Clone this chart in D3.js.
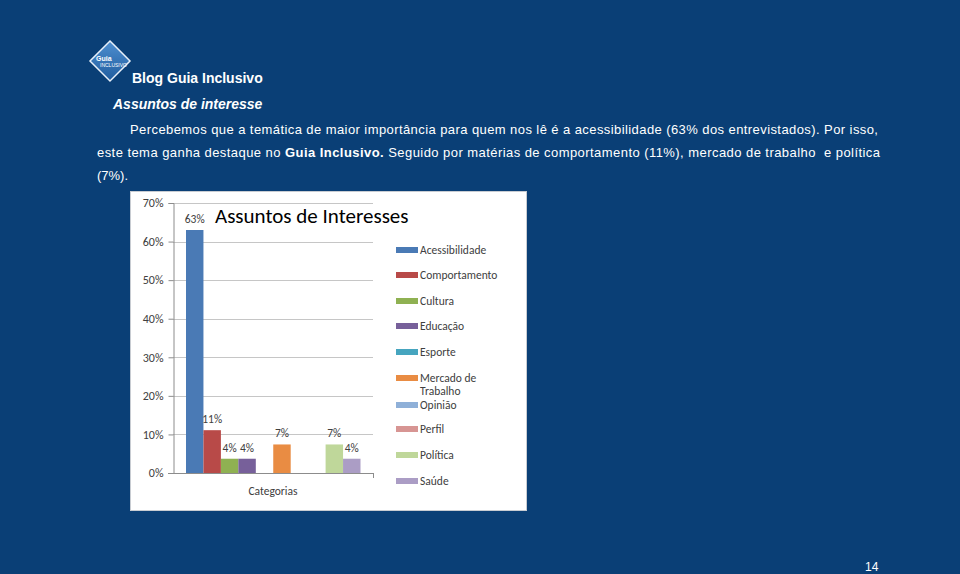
<!DOCTYPE html>
<html><head><meta charset="utf-8">
<script src="https://cdn.jsdelivr.net/npm/d3@7"></script>
<style>html,body{margin:0;padding:0;background:#0a3f76;}svg{display:block;}</style>
</head><body>
<script>
const categories = ["Acessibilidade","Comportamento","Cultura","Educação","Esporte","Mercado de Trabalho","Opinião","Perfil","Política","Saúde"];
const values = [0.63, 0.111, 0.037, 0.037, 0, 0.074, 0, 0, 0.074, 0.037];
const colors = ["#4a7ab5","#b84a48","#8fb152","#77609a","#46a5bf","#e98c43","#8fb0d8","#d79593","#bfd79a","#ab9dc5"];
const yTicks = [0,0.1,0.2,0.3,0.4,0.5,0.6,0.7];
const legendLines = [["Acessibilidade"],["Comportamento"],["Cultura"],["Educação"],["Esporte"],["Mercado de","Trabalho"],["Opinião"],["Perfil"],["Política"],["Saúde"]];

const W=960,H=574;
const svg=d3.select("body").append("svg").attr("width",W).attr("height",H);
svg.append("rect").attr("width",W).attr("height",H).attr("fill","#0a3f76");

// logo
const defs=svg.append("defs");
const lg=defs.append("linearGradient").attr("id","lg").attr("x1",0).attr("y1",0).attr("x2",0).attr("y2",1);
lg.append("stop").attr("offset","0%").attr("stop-color","#4f8fd0");
lg.append("stop").attr("offset","100%").attr("stop-color","#1f5c9e");
const logo=svg.append("g").attr("transform","translate(110,61)");
logo.append("path").attr("d","M0,-20 L20,0 L0,20 L-20,0 Z").attr("fill","url(#lg)").attr("stroke","#e8f0fa").attr("stroke-width",1.5);
logo.append("text").attr("x",-14).attr("y",0).attr("font-family","Liberation Sans, Arial").attr("font-size",7).attr("font-weight","bold").attr("fill","#fff").text("Guia");
logo.append("text").attr("x",-10).attr("y",6).attr("font-family","Liberation Sans, Arial").attr("font-size",5).attr("fill","#fff").text("INCLUSIVO");

const ff="Liberation Sans, Arial, sans-serif";
svg.append("text").attr("x",132).attr("y",83).attr("font-family",ff).attr("font-size",14).attr("font-weight","bold").attr("fill","#fff").text("Blog Guia Inclusivo");
svg.append("text").attr("x",113).attr("y",109).attr("font-family",ff).attr("font-size",14).attr("font-weight","bold").attr("font-style","italic").attr("fill","#fff").text("Assuntos de interesse");

svg.append("text").attr("x",130).attr("y",134).attr("font-family",ff).attr("font-size",13).attr("fill","#fff")
  .attr("textLength",748).attr("lengthAdjust","spacing")
  .text("Percebemos que a temática de maior importância para quem nos lê é a acessibilidade (63% dos entrevistados). Por isso,");
const p2=svg.append("text").attr("x",97).attr("y",157).attr("font-family",ff).attr("font-size",13).attr("fill","#fff")
  .attr("xml:space","preserve")
  .attr("textLength",783).attr("lengthAdjust","spacing");
p2.append("tspan").text("este tema ganha destaque no ");
p2.append("tspan").attr("font-weight","bold").text("Guia Inclusivo.");
p2.append("tspan").text(" Seguido por matérias de comportamento (11%), mercado de trabalho  e política");
svg.append("text").attr("x",97).attr("y",180).attr("font-family",ff).attr("font-size",13).attr("fill","#fff").text("(7%).");

svg.append("text").attr("x",865).attr("y",571).attr("font-family",ff).attr("font-size",12).attr("fill","#fff").text("14");

// chart box
svg.append("rect").attr("x",130.5).attr("y",191.5).attr("width",396).attr("height",319).attr("fill","#fff").attr("stroke","#c8ccd2");

const cf="Carlito, 'Open Sans', 'Liberation Sans', sans-serif";
const x0=173,x1=373,yTop=203,yBot=473;
const y=d3.scaleLinear().domain([0,0.7]).range([yBot,yTop]);
const xb=d3.scaleBand().domain(categories).range([186,360.5]).padding(0);

svg.append("g").selectAll("line").data(yTicks.filter(d=>d>0)).join("line")
  .attr("x1",x0).attr("x2",x1).attr("y1",d=>Math.round(y(d))+0.5).attr("y2",d=>Math.round(y(d))+0.5)
  .attr("stroke","#c6c6c6").attr("stroke-width",1);

const yAxis=d3.axisLeft(y).tickValues(yTicks).tickFormat(d3.format(".0%")).tickSize(5).tickPadding(5);
const ga=svg.append("g").attr("transform",`translate(${x0+0.5},0)`).call(yAxis);
ga.select(".domain").attr("stroke","#8c8c8c");
ga.selectAll(".tick line").attr("stroke","#8c8c8c");
ga.selectAll(".tick text").attr("font-family",cf).attr("font-size",12).attr("fill","#404040");

svg.append("line").attr("x1",x0-5).attr("x2",x1).attr("y1",yBot+0.5).attr("y2",yBot+0.5).attr("stroke","#8c8c8c");
svg.append("line").attr("x1",x1+0.5).attr("x2",x1+0.5).attr("y1",yBot).attr("y2",yBot+5).attr("stroke","#8c8c8c");

svg.append("g").selectAll("rect").data(categories).join("rect")
  .attr("x",d=>xb(d)).attr("width",xb.bandwidth())
  .attr("y",(d,i)=>y(values[i])).attr("height",(d,i)=>yBot-y(values[i]))
  .attr("fill",(d,i)=>colors[i]);

svg.append("g").selectAll("text").data(categories.filter((d,i)=>values[i]>0)).join("text")
  .attr("x",d=>xb(d)+xb.bandwidth()/2)
  .attr("y",d=>y(values[categories.indexOf(d)])-7)
  .attr("text-anchor","middle").attr("font-family",cf).attr("font-size",11.5).attr("fill","#404040")
  .text(d=>d3.format(".0%")(values[categories.indexOf(d)]));

svg.append("text").attr("x",273).attr("y",495).attr("text-anchor","middle").attr("font-family",cf).attr("font-size",11.5).attr("fill","#404040").text("Categorias");

svg.append("text").attr("x",215).attr("y",223).attr("font-family",cf).attr("font-size",21).attr("fill","#000").text("Assuntos de Interesses");

// legend
const legY=[250,275,301,326,352,378,405,429,455,481];
const lgG=svg.append("g");
categories.forEach((c,i)=>{
  const ly=legY[i];
  lgG.append("rect").attr("x",396).attr("y",ly-3).attr("width",22).attr("height",6).attr("fill",colors[i]);
  legendLines[i].forEach((t,j)=>{
    lgG.append("text").attr("x",420).attr("y",ly+4+j*13).attr("font-family",cf).attr("font-size",11.5).attr("fill","#404040").text(t);
  });
});
</script>
</body></html>
